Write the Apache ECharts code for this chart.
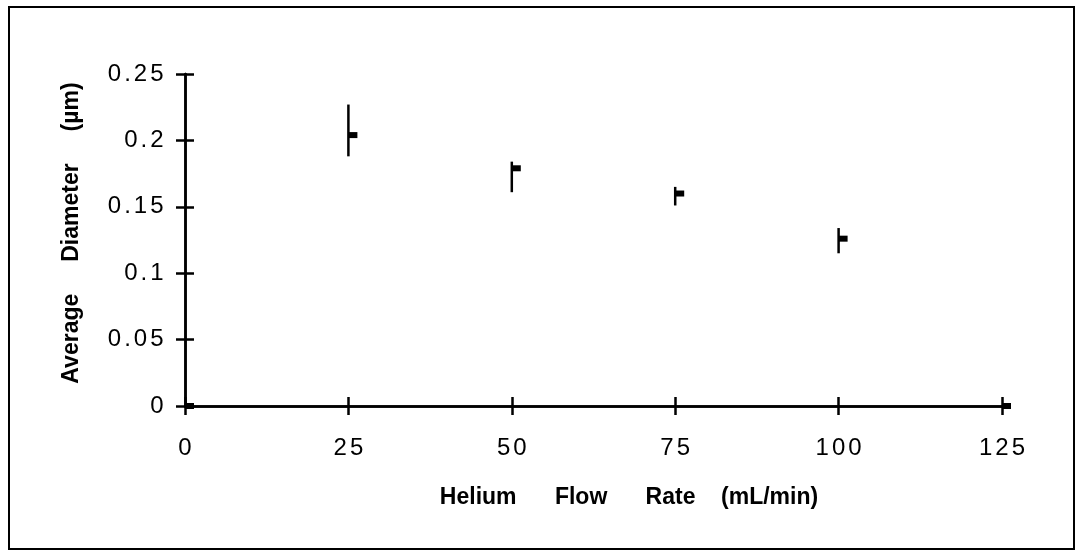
<!DOCTYPE html>
<html>
<head>
<meta charset="utf-8">
<script src="https://cdn.jsdelivr.net/npm/echarts@6/dist/echarts.min.js"></script>
<style>
html,body{margin:0;padding:0;background:#fff;}
#chart{width:1077px;height:552px;}
</style>
</head>
<body>
<div id="chart"></div>
<script>
// Data
const flowRates = [0, 25, 50, 75, 100, 125];           // mL/min
const avgDiameter = [0, 0.204, 0.179, 0.160, 0.126, 0]; // µm
const errLow  = [0, 0.188, 0.161, 0.151, 0.115, 0];     // lower end of error bar
const errHigh = [0, 0.227, 0.184, 0.165, 0.134, 0];     // upper end of error bar
const xTicks = [0, 25, 50, 75, 100, 125];
const yTicks = [0, 0.05, 0.1, 0.15, 0.2, 0.25];

const xName = 'Helium      Flow      Rate    (mL/min)';
const yName = 'Average     Diameter     (\u00b5m)';

const seriesData = flowRates.map((x, i) => [x, avgDiameter[i], errLow[i], errHigh[i]]);

const chart = echarts.init(document.getElementById('chart'), null, {renderer: 'canvas'});
const FONT = 'Liberation Sans, Arial, Helvetica, sans-serif';
const axisLineStyle = {color: '#000', width: 2.5};
const tickStyle = {color: '#000', width: 2.5};
const digitRich = {d: {padding: [0, 1.5, 0, 1.5], fontSize: 24, fontFamily: FONT, color: '#000'}};
const spaced = s => s.split('').map(c => '{d|' + c + '}').join('');

function xAxisBase(inside, withLabels) {
  return {
    type: 'value', min: xTicks[0], max: xTicks[xTicks.length - 1], interval: 25,
    position: 'bottom',
    axisLine: {show: true, onZero: false, lineStyle: axisLineStyle},
    axisTick: {show: true, inside: inside, length: 9, lineStyle: tickStyle},
    splitLine: {show: false},
    axisLabel: withLabels ? {
      show: true, margin: 30, color: '#000', fontSize: 24, fontFamily: FONT,
      formatter: v => spaced(String(v)), rich: digitRich
    } : {show: false}
  };
}
function yAxisBase(inside, withLabels) {
  return {
    type: 'value', min: yTicks[0], max: yTicks[yTicks.length - 1], interval: 0.05,
    position: 'left',
    axisLine: {show: true, onZero: false, lineStyle: axisLineStyle},
    axisTick: {show: true, inside: inside, length: 9, lineStyle: tickStyle},
    splitLine: {show: false},
    axisLabel: withLabels ? {
      show: true, margin: 20, color: '#000', fontSize: 24, fontFamily: FONT,
      formatter: v => spaced(String(+v.toFixed(2))), rich: digitRich
    } : {show: false}
  };
}

const titleStyle = {fill: '#000', font: 'bold 23px ' + FONT, textAlign: 'center', textVerticalAlign: 'middle'};

const option = {
  backgroundColor: '#fff',
  animation: false,
  grid: {left: 185, right: 75, top: 74, bottom: 146, containLabel: false},
  xAxis: [xAxisBase(false, true), xAxisBase(true, false)],
  yAxis: [yAxisBase(false, true), yAxisBase(true, false)],
  graphic: [
    {type: 'rect', shape: {x: 9, y: 7, width: 1065, height: 542},
     style: {fill: 'none', stroke: '#000', lineWidth: 2}, silent: true, z: -1},
    {type: 'text', x: 629, y: 498, style: Object.assign({text: xName}, titleStyle), silent: true},
    {type: 'text', x: 72, y: 233, rotation: Math.PI / 2, style: Object.assign({text: yName}, titleStyle), silent: true}
  ],
  series: [{
    type: 'custom',
    xAxisIndex: 0, yAxisIndex: 0,
    data: seriesData,
    encode: {x: 0, y: [1, 2, 3]},
    renderItem: function (params, api) {
      const x = api.value(0);
      const p = api.coord([x, api.value(1)]);
      const lo = api.coord([x, api.value(2)]);
      const hi = api.coord([x, api.value(3)]);
      const children = [];
      if (Math.abs(lo[1] - hi[1]) > 0.5) {
        children.push({type: 'line', shape: {x1: p[0], y1: hi[1], x2: p[0], y2: lo[1]},
          style: {stroke: '#000', lineWidth: 2.5}});
      }
      children.push({type: 'rect', shape: {x: p[0], y: p[1] - 3, width: 9, height: 6},
        style: {fill: '#000'}});
      return {type: 'group', children: children};
    }
  }]
};
chart.setOption(option);
</script>
</body>
</html>
